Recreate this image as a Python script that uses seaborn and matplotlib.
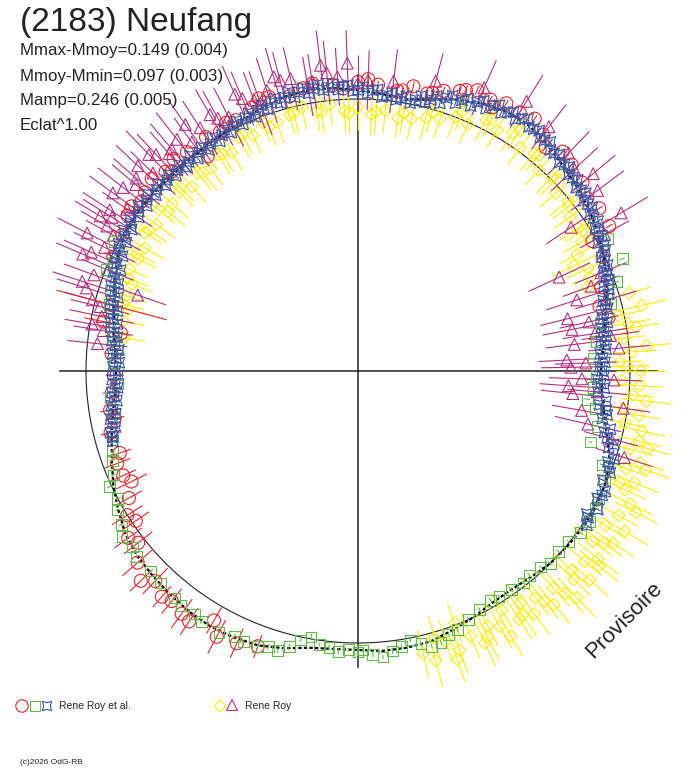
import numpy as np
import matplotlib
matplotlib.use("Agg")
import matplotlib.pyplot as plt
import seaborn as sns

# Courbe de lumiere polaire de (2183) Neufang
# angles en degres (phase * 360), rayons en pixels depuis le centre du graphe

# --- courbe ajustee, tous les 5 degres ---
FIT_THETA = list(range(0, 360, 5))
FIT_R = [243, 246, 250, 257, 265, 271, 277, 282, 286, 290,
         295, 299, 299, 295, 289, 281, 276, 278, 281, 284,
         285, 284, 280, 276, 273, 271, 270, 270, 271, 271,
         270, 266, 259, 253, 248, 244, 242, 244, 249, 255,
         262, 270, 277, 284, 288, 290, 292, 294, 295, 294,
         292, 287, 281, 279, 279, 281, 281, 280, 276, 272,
         268, 267, 269, 272, 273, 274, 274, 272, 268, 258,
         250, 245]
REF_RADIUS = 272

# --- Rene Roy et al. : cercles rouges ---
RED_THETA = [12, 15, 19, 25, 29, 30, 34, 37, 40, 44,
             47, 50, 52, 55, 58, 61, 64, 67, 70, 73,
             76, 79, 82, 86, 90, 95, 99, 104, 108, 112,
             116, 120, 125, 128, 131, 134, 137, 140, 142, 146,
             150, 155, 165, 169, 171, 176, 181, 185, 189, 194,
             199, 204, 206, 209, 212, 214, 218, 221, 224, 226,
             229, 234, 236, 240, 242, 246, 250,
             63, 69, 75, 81, 88, 93, 101, 110, 118, 123,
             133, 144, 191, 201, 216, 231]
RED_R = [256, 250, 257, 270, 268, 290, 291, 287, 293, 297,
         300, 292, 300, 308, 305, 306, 302, 305, 298, 293,
         286, 290, 283, 287, 289, 287, 291, 283, 288, 284,
         279, 276, 262, 278, 281, 277, 282, 278, 275, 278,
         272, 270, 255, 259, 240, 247, 244, 247, 251, 255,
         252, 257, 252, 262, 272, 268, 279, 292, 302, 292,
         299, 300, 302, 288, 301, 298, 293,
         296, 301, 288, 284, 292, 283, 288, 290, 281, 279,
         273, 280, 248, 258, 284, 296]
RED_ERR = [4, 4, 5, 4, 5, 4, 4, 5, 4, 4,
           4, 5, 4, 4, 5, 4, 4, 5, 4, 4,
           4, 5, 4, 4, 5, 4, 5, 4, 4, 5,
           5, 4, 6, 5, 6, 5, 6, 7, 6, 8,
           8, 10, 57, 20, 9, 7, 8, 9, 10, 10,
           12, 14, 17, 15, 18, 16, 18, 20, 15, 18,
           14, 18, 16, 15, 19, 16, 12,
           4, 5, 4, 4, 5, 4, 5, 4, 5, 6,
           6, 7, 10, 14, 17, 16]

# --- Rene Roy et al. : carres verts ---
GREEN_THETA = [152, 156, 158, 162, 165, 168, 172, 175, 178, 183,
               186, 190, 195, 198, 200, 203, 205, 208, 210, 213,
               215, 218, 220, 224, 227, 231, 233, 236, 238, 242,
               245, 247, 250, 252, 254, 256, 258, 260, 262, 264,
               266, 268, 270, 271, 273, 275, 277, 279, 281, 283,
               285, 287, 289, 291, 294, 297, 300, 302, 305, 308,
               310, 313, 315, 318, 321, 324, 327, 330, 332, 336,
               339, 343, 347, 351, 353, 356, 359, 3, 7, 11,
               15, 19, 23, 28]
GREEN_R = [276, 268, 271, 260, 257, 252, 247, 242, 244, 241,
           249, 247, 254, 258, 261, 266, 274, 272, 278, 282,
           288, 286, 289, 288, 290, 292, 294, 293, 295, 296,
           293, 294, 293, 290, 291, 284, 275, 270, 276, 278,
           281, 279, 281, 279, 284, 287, 282, 279, 274, 280,
           285, 284, 279, 277, 272, 268, 265, 266, 267, 269,
           267, 268, 272, 270, 271, 275, 276, 274, 272, 270,
           262, 243, 246, 240, 231, 236, 238, 236, 240, 247,
           262, 274, 287, 283]
GREEN_ERR = [3, 2, 3, 2, 3, 3, 2, 3, 2, 3,
             2, 3, 3, 2, 3, 2, 3, 3, 2, 3,
             2, 3, 2, 3, 3, 2, 3, 2, 3, 2,
             3, 2, 3, 3, 2, 3, 2, 3, 2, 3,
             3, 2, 3, 2, 3, 2, 3, 3, 2, 3,
             2, 3, 2, 3, 3, 2, 3, 2, 3, 2,
             3, 2, 3, 3, 2, 3, 2, 3, 2, 3,
             3, 2, 3, 2, 3, 3, 2, 3, 2, 3,
             3, 2, 3, 3]

# --- Rene Roy et al. : etoiles bleues ---
BLUE_THETA = [326, 328, 330, 332, 334, 336, 338, 340, 341, 343,
              344, 346, 347, 349, 350, 352, 353, 355, 356, 358,
              359, 1, 2, 4, 5, 7, 8, 10, 11, 13,
              14, 16, 17, 19, 20, 22, 23, 25, 26, 28,
              29, 31, 32, 34, 35, 37, 38, 40, 41, 43,
              44, 46, 47, 49, 50, 52, 53, 55, 56, 58,
              59, 61, 62, 64, 65, 67, 68, 70, 71, 73,
              74, 76, 77, 79, 80, 82, 83, 85, 86, 88,
              89, 91, 92, 94, 95, 97, 98, 100, 101, 103,
              104, 106, 107, 109, 110, 112, 113, 115, 116, 118,
              119, 121, 122, 124, 125, 127, 128, 130, 131, 133,
              134, 136, 137, 139, 140, 142, 143, 145, 146, 148,
              149, 151, 152, 154, 155, 157, 158, 160, 161, 163,
              164, 166, 167, 169, 170, 172, 173, 175, 176, 178,
              179, 181, 182, 184, 185, 187, 188, 190, 191, 193,
              194, 196,
              327.5, 333, 339, 345, 351, 357, 0, 3, 6, 9,
              12, 15, 18, 21, 24, 27, 30, 33, 36, 39,
              42, 45, 48, 51, 54, 57, 60, 63, 66, 69,
              72, 75, 78, 81, 84, 87, 90, 93, 96, 99,
              102, 105, 108, 111, 114, 117, 120, 123, 126, 129,
              132, 135, 138, 141, 144, 147, 150, 153, 156, 159,
              162, 165, 168, 171, 174, 177, 180, 183, 186, 189,
              192, 195]
BLUE_R = [276, 270, 277, 271, 275, 268, 272, 266, 271, 262,
          266, 254, 259, 249, 253, 244, 250, 241, 247, 240,
          246, 242, 247, 243, 249, 245, 251, 247, 254, 250,
          257, 255, 262, 260, 267, 265, 271, 269, 275, 272,
          279, 277, 283, 280, 286, 283, 289, 285, 291, 288,
          294, 290, 296, 293, 299, 296, 301, 298, 304, 297,
          302, 295, 301, 292, 298, 288, 294, 285, 291, 280,
          286, 277, 282, 273, 279, 274, 280, 275, 282, 278,
          284, 280, 286, 282, 288, 283, 289, 282, 288, 281,
          287, 279, 285, 277, 283, 274, 280, 272, 278, 270,
          276, 268, 275, 267, 273, 266, 273, 266, 273, 267,
          273, 267, 274, 268, 275, 268, 275, 268, 275, 267,
          273, 265, 271, 262, 268, 258, 264, 255, 261, 251,
          257, 248, 254, 245, 251, 243, 248, 240, 246, 239,
          245, 240, 246, 241, 247, 243, 249, 246, 252, 249,
          255, 255,
          273, 274, 269, 258, 251, 243, 244, 245, 248, 249,
          251, 256, 264, 266, 270, 276, 278, 281, 284, 287,
          289, 292, 293, 297, 299, 301, 299, 298, 294, 290,
          287, 281, 277, 276, 277, 281, 281, 285, 285, 286,
          285, 283, 282, 279, 277, 275, 272, 271, 270, 269,
          270, 270, 271, 272, 271, 271, 269, 267, 264, 260,
          256, 253, 250, 247, 244, 242, 243, 243, 245, 248,
          251, 254]
BLUE_ERR = [4, 5, 3, 4, 6, 4, 3, 5, 4, 4,
            5, 4, 3, 5, 4, 6, 4, 3, 4, 5,
            4, 3, 5, 4, 4, 6, 3, 4, 5, 4,
            3, 4, 5, 4, 6, 4, 3, 5, 4, 4,
            5, 4, 4, 3, 5, 4, 6, 4, 3, 5,
            4, 4, 5, 3, 4, 6, 4, 5, 3, 4,
            5, 4, 3, 4, 5, 6, 4, 3, 5, 4,
            4, 5, 3, 4, 6, 4, 5, 4, 3, 4,
            5, 4, 4, 6, 3, 5, 4, 4, 5, 3,
            4, 6, 4, 5, 3, 4, 4, 5, 4, 6,
            3, 4, 5, 4, 4, 5, 3, 6, 4, 4,
            5, 4, 3, 5, 4, 4, 6, 3, 4, 5,
            4, 4, 5, 3, 6, 4, 4, 5, 4, 3,
            5, 4, 6, 4, 3, 5, 4, 4, 5, 4,
            3, 6, 4, 5, 4, 4, 3, 5, 4, 6,
            4, 5,
            4, 5, 4, 3, 5, 4, 6, 4, 5, 3,
            4, 5, 4, 6, 3, 4, 5, 4, 4, 5,
            3, 4, 6, 4, 5, 4, 3, 5, 4, 4,
            5, 4, 3, 6, 4, 4, 5, 3, 4, 5,
            4, 6, 4, 3, 5, 4, 4, 5, 3, 4,
            6, 4, 5, 4, 3, 4, 5, 4, 6, 4,
            3, 5, 4, 4, 5, 6, 4, 3, 5, 4,
            4, 5]

# --- Rene Roy : losanges jaunes ---
YELLOW_THETA = [288, 290, 291, 293, 295, 297, 299, 301, 303, 305,
                306, 308, 310, 312, 314, 316, 318, 320, 322, 324,
                326, 329, 331, 334, 336, 338, 340, 342, 344, 346,
                349, 352, 355, 358, 0, 2, 4, 7, 10, 13,
                16, 22, 26, 30, 33, 36, 39, 42, 45, 48,
                51, 54, 57, 60, 63, 66, 69, 72, 75, 78,
                81, 84, 87, 90, 93, 96, 99, 102, 105, 108,
                111, 114, 117, 120, 123, 126, 129, 132, 135, 138,
                141, 144, 147, 150, 153, 156, 159, 162, 165, 168,
                172, 283, 285, 286,
                20, 24, 28, 32, 38, 44, 50, 56, 62, 68,
                74, 80, 86, 92, 98, 104, 110, 116, 122, 128,
                134, 140, 146, 152, 158, 164,
                289, 296, 300, 304, 309, 313, 317, 321, 325, 328,
                333, 337, 341, 345, 348, 351, 354, 357, 1, 5,
                9, 12]
YELLOW_R = [284, 297, 270, 288, 300, 286, 292, 279, 296, 283,
            300, 288, 305, 292, 315, 300, 312, 296, 305, 290,
            308, 311, 298, 303, 292, 298, 285, 297, 283, 290,
            272, 268, 276, 264, 283, 262, 275, 268, 274, 291,
            282, 250, 240, 258, 262, 262, 270, 266, 274, 270,
            280, 276, 284, 278, 282, 270, 272, 265, 262, 258,
            256, 262, 257, 264, 260, 268, 263, 270, 265, 262,
            266, 258, 262, 252, 258, 250, 255, 248, 253, 250,
            256, 249, 254, 246, 247, 250, 242, 244, 238, 240,
            236, 290, 300, 278,
            244, 252, 248, 266, 268, 276, 282, 290, 286, 280,
            270, 262, 260, 258, 262, 266, 260, 264, 256, 252,
            256, 248, 252, 250, 248, 244,
            305, 296, 306, 294, 296, 304, 292, 310, 300, 292,
            312, 285, 304, 300, 290, 284, 290, 282, 270, 290,
            282, 266]
YELLOW_ERR = [22, 25, 20, 24, 26, 22, 25, 21, 24, 23,
              26, 22, 25, 24, 27, 23, 25, 22, 26, 24,
              25, 27, 22, 24, 23, 26, 22, 25, 24, 23,
              22, 24, 21, 23, 25, 22, 24, 21, 23, 25,
              22, 20, 24, 21, 22, 20, 23, 21, 22, 20,
              23, 21, 22, 20, 24, 21, 22, 20, 23, 21,
              20, 22, 21, 23, 20, 22, 21, 23, 20, 22,
              21, 20, 22, 21, 23, 20, 22, 21, 20, 22,
              21, 23, 20, 22, 21, 20, 22, 21, 20, 22,
              21, 25, 27, 23,
              21, 23, 20, 22, 21, 23, 20, 22, 21, 20,
              22, 21, 23, 20, 22, 21, 20, 22, 21, 23,
              20, 22, 21, 20, 22, 21,
              24, 26, 23, 25, 22, 26, 24, 25, 23, 26,
              24, 22, 25, 23, 24, 22, 25, 23, 22, 24,
              23, 22]

# --- Rene Roy : triangles magenta ---
MAG_THETA = [342, 345, 347, 350, 352, 354, 356, 358, 1, 3,
             5, 7, 9, 12, 14, 16, 20, 25, 29, 31,
             34, 37, 40, 43, 46, 52, 58, 66, 75, 83,
             88, 90, 92, 94, 97, 100, 103, 105, 108, 111,
             114, 117, 120, 123, 126, 128, 131, 134, 137, 140,
             142, 145, 148, 149, 151, 153, 156, 158, 160, 161,
             162, 165, 168, 171,
             96, 99, 106, 110, 113, 119, 125, 130, 133, 136,
             139, 144, 147, 150, 154, 157, 163, 166, 170, 174,
             355, 358, 2, 8, 11, 18, 22]
MAG_R = [280, 262, 236, 227, 268, 216, 211, 224, 213, 209,
         262, 218, 240, 236, 216, 258, 248, 222, 282, 307,
         257, 300, 307, 296, 303, 310, 318, 310, 300, 292,
         291, 288, 308, 295, 308, 289, 300, 301, 295, 290,
         303, 285, 296, 290, 283, 294, 288, 301, 301, 290,
         298, 282, 290, 301, 280, 304, 292, 270, 281, 233,
         290, 275, 262, 258,
         300, 293, 306, 285, 296, 289, 301, 290, 296, 285,
         294, 303, 296, 290, 282, 299, 284, 266, 270, 262,
         240, 256, 228, 255, 218, 230, 262]
MAG_ERR = [30, 28, 34, 30, 27, 32, 29, 33, 30, 28,
           31, 29, 33, 30, 28, 32, 30, 34, 28, 31,
           30, 33, 29, 32, 30, 28, 31, 30, 29, 32,
           30, 28, 33, 29, 35, 30, 32, 29, 34, 30,
           31, 33, 29, 32, 30, 34, 29, 33, 30, 31,
           32, 30, 34, 29, 31, 33, 30, 28, 32, 30,
           31, 29, 33, 30,
           32, 28, 30, 34, 29, 31, 30, 33, 28, 31,
           30, 29, 32, 30, 34, 29, 31, 30, 28, 30,
           30, 28, 31, 29, 30, 32, 28]

RED = "#E8232B"
GREEN = "#5DBB46"
BLUE = "#3A55A6"
YELLOW = "#FFEC00"
MAGENTA = "#B0307F"
INK = "#222222"

plt.rcParams['font.family'] = ['Liberation Sans', 'DejaVu Sans']

W, H = 688, 768
CX, CY = 358, 371          # centre du graphe (pixels, origine en haut a gauche)
HALF = 420                 # demi-largeur de l'axe polaire (pixels)

fig = plt.figure(figsize=(W / 100, H / 100), dpi=100)
fig.patch.set_facecolor('white')

ax = fig.add_axes([(CX - HALF) / W, (H - CY - HALF) / H, 2 * HALF / W, 2 * HALF / H],
                  projection='polar')
ax.set_ylim(0, HALF)
ax.set_axis_off()
ax.patch.set_visible(False)

# axes en croix
ax.plot([0, 0], [0, 299], color=INK, lw=1.1, zorder=1)
ax.plot([np.pi, np.pi], [0, 298], color=INK, lw=1.1, zorder=1)
ax.plot([np.pi / 2, np.pi / 2], [0, 296], color=INK, lw=1.1, zorder=1)
ax.plot([1.5 * np.pi, 1.5 * np.pi], [0, 296], color=INK, lw=1.1, zorder=1)

# cercle de reference
circ_t = np.linspace(0, 2 * np.pi, 361)
ax.plot(circ_t, np.full_like(circ_t, REF_RADIUS), color=INK, lw=0.8, zorder=2)

# courbe ajustee
fit_t = np.deg2rad(FIT_THETA + [360])
fit_r = FIT_R + [FIT_R[0]]
sns.lineplot(x=fit_t, y=fit_r, ax=ax, color='black', lw=1.6, linestyle=(0, (1.5, 1.0)),
             sort=False, estimator=None, zorder=3)


def draw_series(theta, r, err, color, marker, size, z):
    t = np.deg2rad(theta)
    r = np.asarray(r, dtype=float)
    e = np.asarray(err, dtype=float)
    ax.vlines(t, r - e, r + e, colors=color, lw=0.8, zorder=z)
    sns.scatterplot(x=t, y=r, ax=ax, marker=marker, s=size, color=color,
                    facecolor='none', edgecolor=color, linewidth=0.8,
                    legend=False, zorder=z)


draw_series(YELLOW_THETA, YELLOW_R, YELLOW_ERR, YELLOW, 'D', 40, 4)
draw_series(MAG_THETA, MAG_R, MAG_ERR, MAGENTA, '^', 72, 5)
draw_series(RED_THETA, RED_R, RED_ERR, RED, 'o', 88, 6)
draw_series(GREEN_THETA, GREEN_R, GREEN_ERR, GREEN, 's', 60, 7)
draw_series(BLUE_THETA, BLUE_R, BLUE_ERR, BLUE, (4, 1, 45), 120, 8)
ax.set_xlabel('')
ax.set_ylabel('')

# couche en pixels pour les textes et la legende
lax = fig.add_axes([0, 0, 1, 1])
lax.set_xlim(0, W)
lax.set_ylim(H, 0)
lax.set_axis_off()
lax.patch.set_visible(False)

lax.text(20, 22, "(2183) Neufang", fontsize=24, color=INK, va='center', ha='left')
lax.text(20, 51, "Mmax-Mmoy=0.149 (0.004)", fontsize=12.2, color=INK, va='center')
lax.text(20, 76, "Mmoy-Mmin=0.097 (0.003)", fontsize=12.2, color=INK, va='center')
lax.text(20, 101, "Mamp=0.246 (0.005)", fontsize=12.2, color=INK, va='center')
lax.text(20, 125, "Eclat^1.00", fontsize=12.2, color=INK, va='center')

lax.text(624, 620, "Provisoire", fontsize=16, color=INK, rotation=45,
         rotation_mode='anchor', ha='center', va='center')

# legende
leg_items = [
    (22, 706, 'o', 80, RED),
    (35, 706, 's', 45, GREEN),
    (47, 706, (4, 1, 45), 90, BLUE),
    (220, 706, 'D', 36, YELLOW),
    (232, 705, '^', 62, MAGENTA),
]
for lx, ly, mk, sz, col in leg_items:
    sns.scatterplot(x=[lx], y=[ly], ax=lax, marker=mk, s=sz, color=col,
                    facecolor='none', edgecolor=col, linewidth=0.8, legend=False)
lax.text(59, 706, "Rene Roy et al.", fontsize=7.5, color=INK, va='center')
lax.text(245, 706, "Rene Roy", fontsize=7.5, color=INK, va='center')
lax.text(20, 763, "(c)2026 OdG-RB", fontsize=6, color=INK, va='center')
lax.set_xlabel('')
lax.set_ylabel('')

fig.savefig("out.png", dpi=100, facecolor='white')
